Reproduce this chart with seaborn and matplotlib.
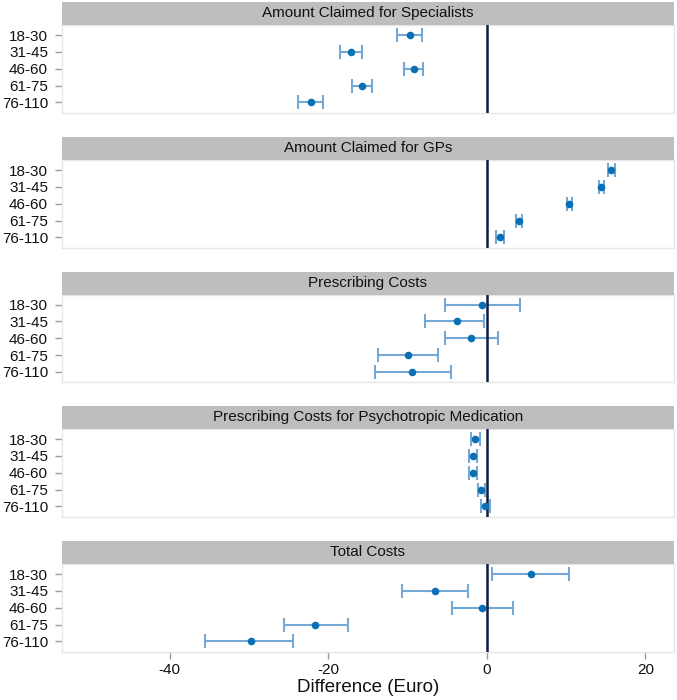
import matplotlib
matplotlib.use("Agg")
import matplotlib.pyplot as plt
from matplotlib.patches import Rectangle
import seaborn as sns
import pandas as pd

age_groups = ["18-30", "31-45", "46-60", "61-75", "76-110"]
panels = ["Amount Claimed for Specialists", "Amount Claimed for GPs", "Prescribing Costs",
          "Prescribing Costs for Psychotropic Medication", "Total Costs"]

est_specialists = [-9.7, -17.1, -9.2, -15.8, -22.2]
low_specialists = [-11.3, -18.5, -10.4, -17.0, -23.8]
high_specialists = [-8.2, -15.8, -8.0, -14.5, -20.7]

est_gps = [15.65, 14.45, 10.4, 4.0, 1.7]
low_gps = [15.3, 14.1, 10.05, 3.65, 1.2]
high_gps = [16.1, 14.8, 10.75, 4.4, 2.15]

est_presc = [-0.65, -3.8, -2.0, -10.0, -9.45]
low_presc = [-5.25, -7.75, -5.25, -13.8, -14.1]
high_presc = [4.2, -0.35, 1.4, -6.2, -4.5]

est_psych = [-1.45, -1.8, -1.75, -0.7, -0.27]
low_psych = [-2.0, -2.3, -2.2, -1.15, -0.75]
high_psych = [-0.9, -1.3, -1.3, -0.2, 0.35]

est_total = [5.55, -6.6, -0.6, -21.7, -29.8]
low_total = [0.6, -10.75, -4.45, -25.6, -35.5]
high_total = [10.35, -2.35, 3.25, -17.5, -24.5]

x_ticks = [-40, -20, 0, 20]
x_label = "Difference (Euro)"

est_all = [est_specialists, est_gps, est_presc, est_psych, est_total]
low_all = [low_specialists, low_gps, low_presc, low_psych, low_total]
high_all = [high_specialists, high_gps, high_presc, high_psych, high_total]

rows = []
for p, e, lo, hi in zip(panels, est_all, low_all, high_all):
    for g, ev, lv, hv in zip(age_groups, e, lo, hi):
        rows.append({"panel": p, "age": g, "est": ev, "low": lv, "high": hv})
df = pd.DataFrame(rows)

sns.set_theme(style="white")
plt.rcParams['font.family'] = ['Liberation Sans', 'DejaVu Sans']

W, H = 677, 700
fig = plt.figure(figsize=(W / 100, H / 100), dpi=100)

left_px, right_px = 62, 674
plot_tops = [25, 160, 294.5, 429, 564]
plot_h = 87.5
head_h = 23

point_color = "#0a6fb5"
err_color = "#74a9d6"
zero_color = "#0d1d40"
frame_color = "#e6e6e6"
strip_color = "#bebebe"
text_color = "#111111"

for i, p in enumerate(panels):
    top = plot_tops[i]
    ax = fig.add_axes([left_px / W, 1 - (top + plot_h) / H, (right_px - left_px) / W, plot_h / H])
    sub = df[df["panel"] == p]
    ypos = [age_groups.index(a) for a in sub["age"]]
    ax.errorbar(sub["est"], ypos,
                xerr=[sub["est"] - sub["low"], sub["high"] - sub["est"]],
                fmt="none", ecolor=err_color, elinewidth=1.5, capsize=5, capthick=1.5, zorder=2)
    ax.axvline(0, color=zero_color, lw=1.8, zorder=3)
    sns.scatterplot(data=sub, x="est", y=ypos, ax=ax, color=point_color, s=30,
                    edgecolor=point_color, linewidth=0, zorder=4)
    ax.set_xlim(-53.6, 23.6)
    ax.set_ylim(4.6, -0.6)
    ax.set_yticks(range(len(age_groups)))
    ax.set_yticklabels(age_groups, fontsize=11, color=text_color)
    ax.tick_params(axis="y", which="major", left=True, length=5, width=1, color="#999999", pad=5)
    for s in ax.spines.values():
        s.set_color(frame_color)
        s.set_linewidth(1.0)
    ax.set_ylabel("")
    if i == len(panels) - 1:
        ax.set_xticks(x_ticks)
        ax.set_xticklabels([str(t) for t in x_ticks], fontsize=11, color=text_color)
        ax.tick_params(axis="x", bottom=True, length=5, width=1, color="#999999", pad=3)
        ax.set_xlabel(x_label, fontsize=13.5, color=text_color, labelpad=2)
    else:
        ax.set_xticks(x_ticks)
        ax.set_xticklabels([])
        ax.tick_params(axis="x", bottom=False, length=0)
        ax.set_xlabel("")
    hh = head_h / plot_h
    ax.add_patch(Rectangle((0, 1), 1, hh, transform=ax.transAxes, facecolor=strip_color,
                           edgecolor="none", clip_on=False, zorder=5))
    ax.text(0.5, 1 + hh / 2, p, transform=ax.transAxes, ha="center", va="center",
            fontsize=11, color=text_color, zorder=6)

fig.savefig("out.png", dpi=100)
